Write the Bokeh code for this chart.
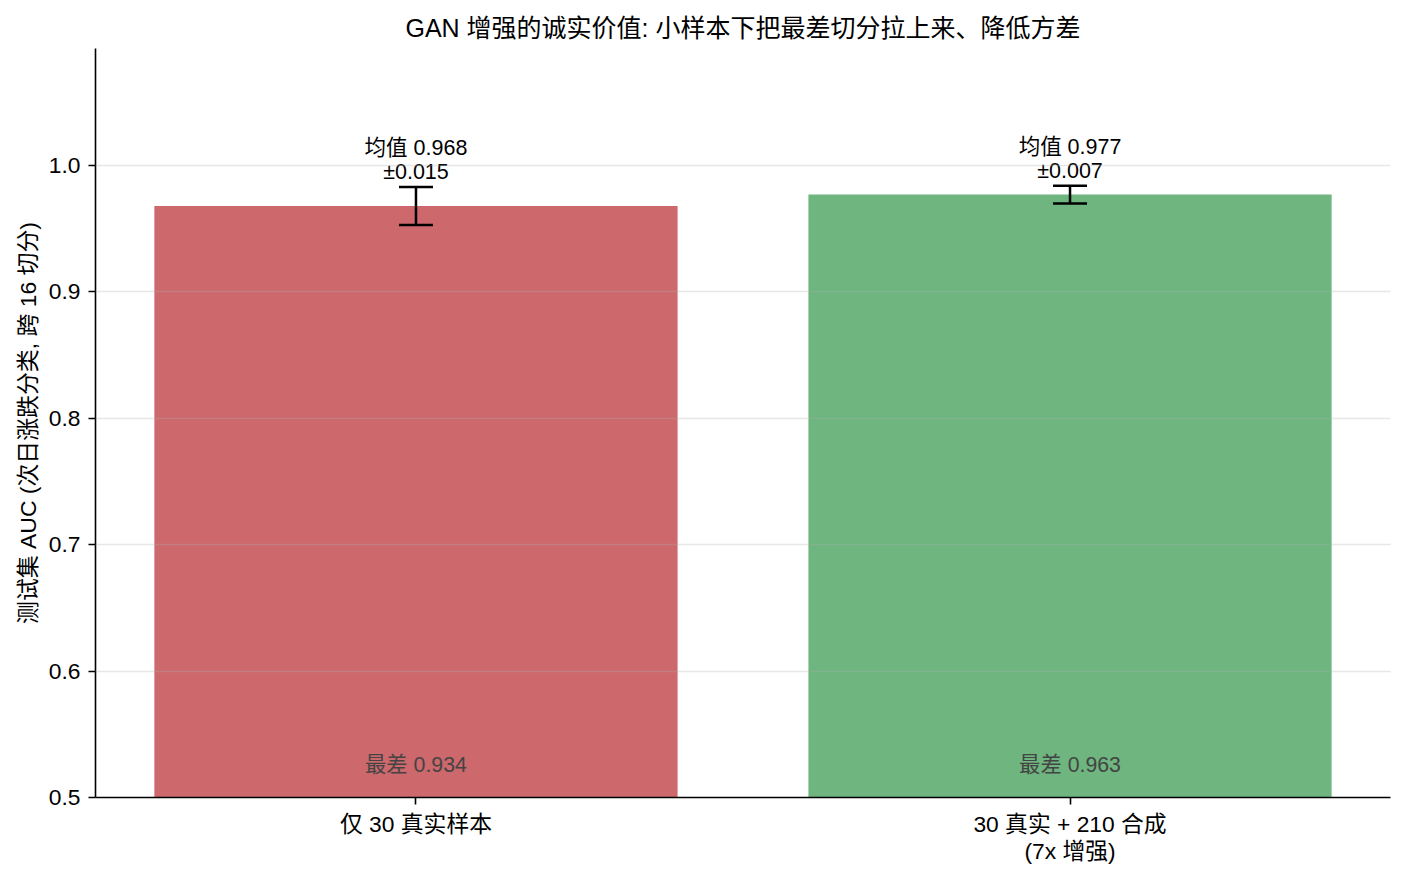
from bokeh.plotting import figure
from bokeh.models import (Range1d, FixedTicker, PrintfTickFormatter, ColumnDataSource,
                          Whisker, TeeHead)
from bokeh.core.properties import value
from bokeh.embed import file_html
from bokeh.resources import INLINE

# ---- data ----
categories = ["仅 30 真实样本", "30 真实 + 210 合成\n(7x 增强)"]
means = [0.968, 0.977]
stds = [0.015, 0.007]
worst = [0.934, 0.963]
bar_colors = ["#c44e52", "#55a868"]
y_ticks = [0.5, 0.6, 0.7, 0.8, 0.9, 1.0]
title_text = "GAN 增强的诚实价值: 小样本下把最差切分拉上来、降低方差"
ylabel_text = "测试集 AUC (次日涨跌分类, 跨 16 切分)"

FONT = "Liberation Sans, Noto Sans CJK SC"

n = len(categories)
xs = list(range(n))
src = ColumnDataSource(dict(
    x=xs,
    mean=means,
    upper=[m + s for m, s in zip(means, stds)],
    lower=[m - s for m, s in zip(means, stds)],
    color=bar_colors,
    mean_text=[f"均值 {m:.3f}\n±{s:.3f}" for m, s in zip(means, stds)],
    worst_text=[f"最差 {w:.3f}" for w in worst],
    worst_y=[0.52] * n,
))

p = figure(width=1405, height=881, output_backend="svg", toolbar_location=None,
           x_range=Range1d(-0.49, 1.49), y_range=Range1d(0.5, 1.0926),
           min_border_left=95, min_border_right=15, min_border_top=48, min_border_bottom=84)

p.title.text = title_text
p.title.align = "center"
p.title.text_font = FONT
p.title.text_font_size = "25px"
p.title.text_font_style = "normal"
p.title.text_color = "black"
p.title.standoff = 14

p.outline_line_color = None
p.background_fill_color = "white"
p.border_fill_color = "white"

# grid
p.xgrid.visible = False
p.ygrid.ticker = FixedTicker(ticks=y_ticks)
p.ygrid.grid_line_color = "#b0b0b0"
p.ygrid.grid_line_alpha = 0.3
p.ygrid.grid_line_width = 1.6
p.ygrid.level = "annotation"

# bars
p.vbar(x="x", top="mean", bottom=0, width=0.8, source=src,
       fill_color="color", fill_alpha=0.85, line_color=None)

# error bars
w = Whisker(base="x", upper="upper", lower="lower", source=src,
            line_color="black", line_width=2.5, level="overlay",
            upper_head=TeeHead(size=34, line_color="black", line_width=2.5),
            lower_head=TeeHead(size=34, line_color="black", line_width=2.5))
p.add_layout(w)

# annotations
p.text(x="x", y="upper", text="mean_text", source=src,
       text_font=value(FONT), text_font_size="21.5px", text_color="black",
       text_align="center", text_baseline="bottom", y_offset=-3, text_line_height=1.0)
p.text(x="x", y="worst_y", text="worst_text", source=src,
       text_font=value(FONT), text_font_size="21.3px", text_color="#444444",
       text_align="center", text_baseline="bottom", y_offset=5)

# axes
for ax in (p.xaxis[0], p.yaxis[0]):
    ax.axis_line_color = "black"
    ax.axis_line_width = 1.6
    ax.major_tick_line_color = "black"
    ax.major_tick_line_width = 1.6
    ax.major_tick_out = 7
    ax.major_tick_in = 0
    ax.minor_tick_line_color = None
    ax.major_label_text_font = FONT
    ax.major_label_text_font_size = "22.8px"
    ax.major_label_text_color = "black"

p.xaxis.major_label_standoff = 6
p.xaxis.major_label_text_line_height = 1.05
p.xaxis.ticker = FixedTicker(ticks=xs)
p.xaxis.major_label_overrides = {i: c for i, c in zip(xs, categories)}

p.yaxis.major_label_standoff = 8
p.yaxis.ticker = FixedTicker(ticks=y_ticks)
p.yaxis.formatter = PrintfTickFormatter(format="%.1f")
p.yaxis.axis_label = ylabel_text
p.yaxis.axis_label_text_font = FONT
p.yaxis.axis_label_text_font_size = "22.9px"
p.yaxis.axis_label_text_font_style = "normal"
p.yaxis.axis_label_text_color = "black"
p.yaxis.axis_label_standoff = 5

open("out.html", "w").write(file_html(p, INLINE))
